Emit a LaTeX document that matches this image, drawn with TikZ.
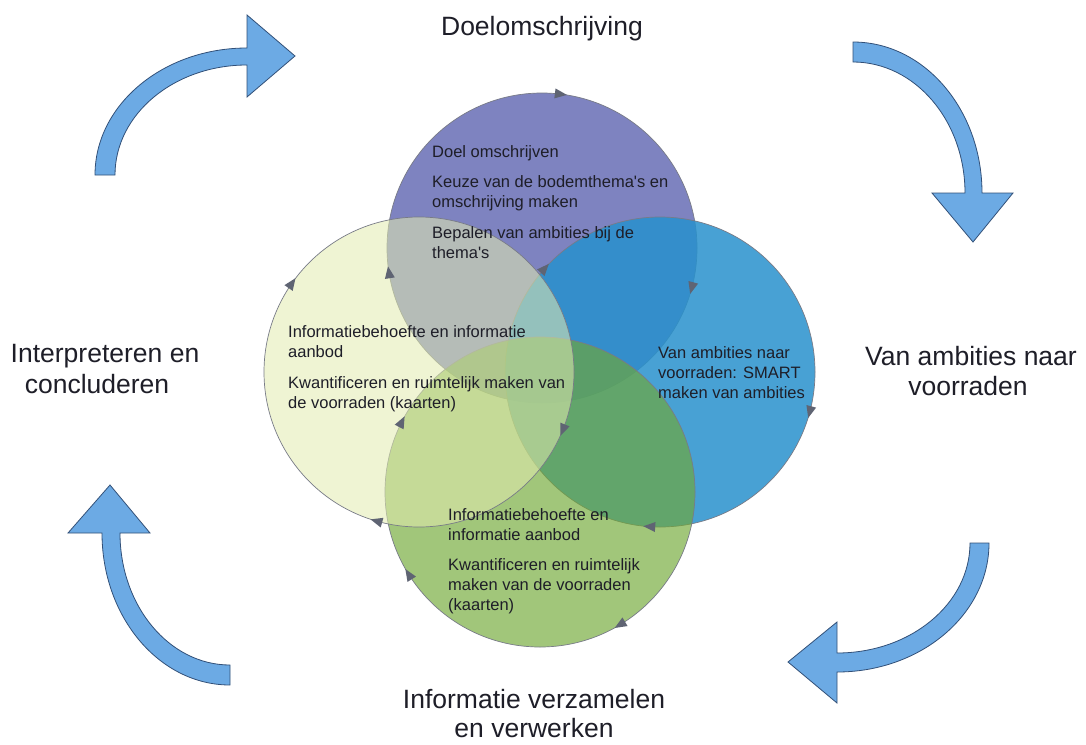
\documentclass[tikz,border=0pt]{standalone}
\usepackage{fontspec}
\setmainfont{Liberation Sans}
\definecolor{ctop}{RGB}{84,90,172}
\definecolor{cright}{RGB}{40,145,205}
\definecolor{cbottom}{RGB}{112,168,52}
\definecolor{cleft}{RGB}{227,236,176}
\definecolor{ringline}{RGB}{120,123,135}
\definecolor{headc}{RGB}{95,100,115}
\definecolor{bigfill}{RGB}{108,170,228}
\definecolor{bigline}{RGB}{50,80,120}
\definecolor{txt}{RGB}{30,30,40}
\tikzset{
  ring/.style={circle, minimum size=310pt, inner sep=0pt, outer sep=0pt, draw=ringline, line width=0.7pt},
  bigarrow/.style={fill=bigfill, draw=bigline, line width=0.8pt, line join=miter},
  ctext/.style={anchor=base west, inner sep=0pt, text=txt, font=\fontsize{16.5}{20}\selectfont},
  otext/.style={anchor=base, inner sep=0pt, text=txt, font=\fontsize{26.5}{31}\selectfont},
}
\newcommand{\ahead}[2]{\fill[headc, shift={(#1.#2)}, rotate=#2-90] (6,0) -- (-6,5) -- (-6,-5) -- cycle;}
\newcommand{\tline}[4]{\node[ctext] (#1) at (#2,-#3) {#4};}
\begin{document}
\begin{tikzpicture}[x=1pt,y=1pt]
\useasboundingbox (0,0) rectangle (1086,-744);
\fill[white] (0,0) rectangle (1086,-744);

% rings
\node[ring, fill=ctop, fill opacity=0.75] (top) at (542,-248) {};
\node[ring, fill=cright, fill opacity=0.85] (right) at (660,-372) {};
\node[ring, fill=cbottom, fill opacity=0.65] (bottom) at (540,-492) {};
\node[ring, fill=cleft, fill opacity=0.55] (left) at (419,-372) {};

% small arrow heads on rings
\ahead{top}{189}\ahead{top}{83}\ahead{top}{345}
\ahead{right}{138}\ahead{right}{-15}\ahead{right}{-94}
\ahead{bottom}{153}\ahead{bottom}{212}\ahead{bottom}{301}
\ahead{left}{145}\ahead{left}{-22}\ahead{left}{254}

% texts in rings
\tline{ta}{432}{157}{Doel omschrijven}
\tline{tb}{432}{187}{Keuze van de bodemthema\textquotesingle s en}
\tline{tc}{432}{207}{omschrijving maken}
\tline{td}{432}{238}{Bepalen van ambities bij de}
\tline{te}{432}{258}{thema\textquotesingle s}

\tline{la}{288}{337}{Informatiebehoefte en informatie}
\tline{lb}{288}{357}{aanbod}
\tline{lc}{288}{388}{Kwantificeren en ruimtelijk maken van}
\tline{ld}{288}{408}{de voorraden (kaarten)}

\tline{ra}{658}{358}{Van ambities naar}
\tline{rb}{658}{378}{voorraden: SMART}
\tline{rc}{658}{398}{maken van ambities}

\tline{ba}{448}{520}{Informatiebehoefte en}
\tline{bb}{448}{540}{informatie aanbod}
\tline{bc}{448}{570}{Kwantificeren en ruimtelijk}
\tline{bd}{448}{590}{maken van de voorraden}
\tline{be}{448}{610}{(kaarten)}

% outer labels
\node[otext] (lab1) at (542,-35) {Doelomschrijving};
\node[otext] (lab2a) at (105,-362) {Interpreteren en};
\node[otext] (lab2b) at (97,-393) {concluderen};
\node[otext] (lab3a) at (971,-365) {Van ambities naar};
\node[otext] (lab3b) at (968,-395) {voorraden};
\node[otext] (lab4a) at (534,-708) {Informatie verzamelen};
\node[otext] (lab4b) at (534,-737) {en verwerken};

% big curved arrows
\draw[bigarrow] (95,-175) arc[start angle=180,end angle=90,x radius=152,y radius=127]
  -- (247,-15) -- (295,-56) -- (247,-97) -- (247,-65)
  arc[start angle=90,end angle=180,x radius=132,y radius=110] -- cycle;
\draw[bigarrow] (853,-42) arc[start angle=90,end angle=0,x radius=129,y radius=151]
  -- (1013,-193) -- (973,-242) -- (932,-193) -- (965,-193)
  arc[start angle=0,end angle=90,x radius=112,y radius=131] -- cycle;
\draw[bigarrow] (989,-543) arc[start angle=0,end angle=-90,x radius=152,y radius=129]
  -- (837,-703) -- (788,-662) -- (837,-622) -- (837,-653)
  arc[start angle=-90,end angle=0,x radius=133,y radius=110] -- cycle;
\draw[bigarrow] (230,-685) arc[start angle=-90,end angle=-180,x radius=128,y radius=152]
  -- (68,-533) -- (110,-485) -- (150,-533) -- (120,-533)
  arc[start angle=180,end angle=270,x radius=110,y radius=132] -- cycle;
\end{tikzpicture}
\end{document}
